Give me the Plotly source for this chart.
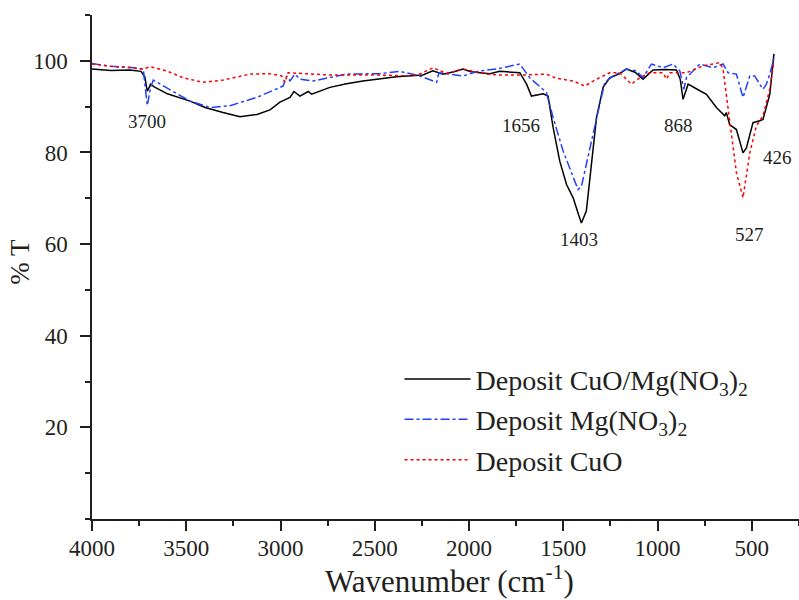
import plotly.graph_objects as go

# ---- data ----
wn_black = [4000, 3900, 3800, 3740, 3720, 3707, 3695, 3690, 3670, 3600, 3480, 3400, 3305, 3215,
            3125, 3056, 3003, 2950, 2929, 2897, 2853, 2835, 2738, 2650, 2563, 2470, 2385, 2245,
            2192, 2139, 2080, 2033, 1990, 1943, 1890, 1837, 1731, 1695, 1669, 1607, 1581, 1554,
            1519, 1483, 1448, 1420, 1404, 1378, 1351, 1324, 1289, 1254, 1201, 1166, 1120, 1077,
            1024, 960, 900, 880, 865, 838, 790, 741, 688, 644, 635, 618, 582, 547, 529, 494,
            458, 441, 405, 383]
t_black = [98.2, 97.9, 98.0, 97.7, 96.5, 93.4, 94.3, 94.9, 94.3, 92.8, 91.2, 89.8, 88.7, 87.8,
           88.3, 89.3, 91.0, 92.0, 93.3, 92.3, 93.3, 92.7, 94.2, 95.0, 95.6, 96.1, 96.5, 96.9,
           97.8, 97.1, 97.6, 98.2, 97.6, 97.4, 97.2, 97.7, 97.4, 94.9, 92.3, 92.8, 92.3, 85.4,
           78.1, 73.0, 70.1, 66.5, 64.6, 67.2, 78.1, 87.6, 94.2, 96.3, 97.2, 98.2, 97.5, 96.0,
           98.0, 98.1, 98.0, 96.0, 91.6, 94.9, 93.8, 92.7, 89.8, 88.0, 88.7, 86.1, 85.0, 79.9,
           81.0, 86.5, 86.9, 87.2, 92.7, 101.5]

wn_blue = [4000, 3900, 3800, 3728, 3707, 3690, 3675, 3622, 3480, 3374, 3268, 3127, 2986, 2968,
           2950, 2924, 2897, 2827, 2650, 2473, 2367, 2261, 2172, 2160, 2033, 1943, 1854, 1731,
           1678, 1590, 1554, 1501, 1422, 1404, 1360, 1307, 1280, 1236, 1201, 1166, 1113, 1077,
           1033, 971, 918, 882, 861, 847, 812, 776, 706, 653, 626, 582, 547, 511, 485, 441,
           423, 405, 383]
t_blue = [99.4, 98.8, 98.6, 98.2, 90.2, 94.0, 95.8, 94.5, 91.2, 89.8, 90.2, 92.0, 94.5, 96.7,
          95.6, 97.1, 96.0, 95.6, 97.1, 97.2, 97.7, 96.7, 95.3, 97.4, 96.7, 97.8, 98.2, 99.3,
          96.3, 93.1, 87.6, 80.3, 71.9, 72.6, 81.0, 90.5, 95.3, 96.7, 97.4, 98.2, 97.8, 96.3,
          99.3, 98.5, 99.3, 97.8, 93.8, 96.3, 97.8, 99.3, 98.5, 99.3, 97.4, 97.1, 92.0, 96.7,
          96.7, 93.8, 94.9, 97.1, 100.5]

wn_red = [4000, 3900, 3800, 3728, 3692, 3604, 3516, 3410, 3304, 3162, 3056, 2994, 2977, 2960,
          2738, 2473, 2332, 2261, 2190, 2120, 2031, 1978, 1907, 1837, 1713, 1590, 1537, 1448,
          1386, 1324, 1254, 1201, 1139, 1095, 1042, 971, 953, 935, 847, 759, 670, 653, 618,
          582, 547, 511, 476, 441, 405, 384]
t_red = [99.3, 98.8, 98.5, 98.2, 98.7, 97.8, 96.3, 95.3, 95.8, 97.1, 97.2, 96.7, 95.3, 97.4,
         96.9, 96.9, 96.7, 97.1, 98.5, 97.2, 98.2, 97.8, 97.1, 96.9, 96.9, 97.1, 96.2, 95.6,
         94.5, 96.0, 97.4, 97.4, 94.9, 96.3, 97.4, 97.4, 96.0, 97.4, 97.4, 98.9, 99.6, 98.2,
         86.5, 75.6, 70.1, 79.9, 85.8, 88.0, 93.8, 99.6]

series_names = ["Deposit CuO/Mg(NO<sub>3</sub>)<sub>2</sub>",
                "Deposit Mg(NO<sub>3</sub>)<sub>2</sub>",
                "Deposit CuO"]

peak_labels = ["3700", "1656", "868", "1403", "527", "426"]
peak_x = [3708, 1722, 891, 1418, 515, 362]
peak_y = [86.7, 85.8, 85.8, 61.0, 62.2, 78.9]

x_ticks = [4000, 3500, 3000, 2500, 2000, 1500, 1000, 500]
y_ticks = [20, 40, 60, 80, 100]

FONT = "Liberation Serif, Times New Roman, serif"
INK = "#231f20"

fig = go.Figure()
fig.add_trace(go.Scatter(x=wn_black, y=t_black, mode="lines", name=series_names[0],
                         legendgroup="a",
                         line=dict(color="#000000", width=1.5)))
fig.add_trace(go.Scatter(x=wn_blue, y=t_blue, mode="lines", name=series_names[1],
                         legendgroup="b",
                         line=dict(color="#2040ff", width=1.5, dash="dashdot")))
fig.add_trace(go.Scatter(x=wn_red, y=t_red, mode="lines", name=series_names[2],
                         legendgroup="c",
                         line=dict(color="#ff0000", width=1.5, dash="dot")))

for txt, xv, yv in zip(peak_labels, peak_x, peak_y):
    fig.add_annotation(x=xv, y=yv, text=txt, showarrow=False,
                       font=dict(family=FONT, size=19, color=INK))

fig.add_annotation(xref="paper", yref="paper", x=-0.102, y=0.51, text="% T",
                   textangle=-90, showarrow=False, xanchor="center", yanchor="middle",
                   font=dict(family=FONT, size=27, color=INK))
fig.add_annotation(xref="paper", yref="paper", x=0.506, y=-0.121,
                   text="Wavenumber (cm<sup>-1</sup>)", showarrow=False,
                   xanchor="center", yanchor="middle",
                   font=dict(family=FONT, size=31, color=INK))

fig.update_layout(
    width=799, height=600,
    margin=dict(l=92, r=0, t=15, b=81),
    paper_bgcolor="white", plot_bgcolor="white",
    font=dict(family=FONT, color=INK, size=22),
    showlegend=True,
    legend=dict(x=0.435, y=0.327, xanchor="left", yanchor="top",
                bgcolor="rgba(0,0,0,0)", itemwidth=66, tracegroupgap=1,
                font=dict(family=FONT, size=28, color=INK)),
    xaxis=dict(range=[4000, 250], tickvals=x_ticks, ticks="outside", ticklen=10,
               tickwidth=1.5, tickcolor=INK, showline=True, linecolor=INK, linewidth=1.5,
               showgrid=False, zeroline=False, ticklabelstandoff=-2, automargin=False,
               tickfont=dict(family=FONT, size=23, color=INK),
               minor=dict(dtick=250, ticks="outside", ticklen=5, tickcolor=INK, tickwidth=1.5,
                          showgrid=False)),
    yaxis=dict(range=[0, 110], tickvals=y_ticks, ticks="outside", ticklen=10,
               tickwidth=1.5, tickcolor=INK, showline=True, linecolor=INK, linewidth=1.5,
               showgrid=False, zeroline=False, ticklabelstandoff=8, automargin=False,
               tickfont=dict(family=FONT, size=23, color=INK),
               minor=dict(dtick=10, ticks="outside", ticklen=5, tickcolor=INK, tickwidth=1.5,
                          showgrid=False)),
)

fig.write_html("out.html", config={"displayModeBar": False},
               post_script="document.body.style.margin='0';")
